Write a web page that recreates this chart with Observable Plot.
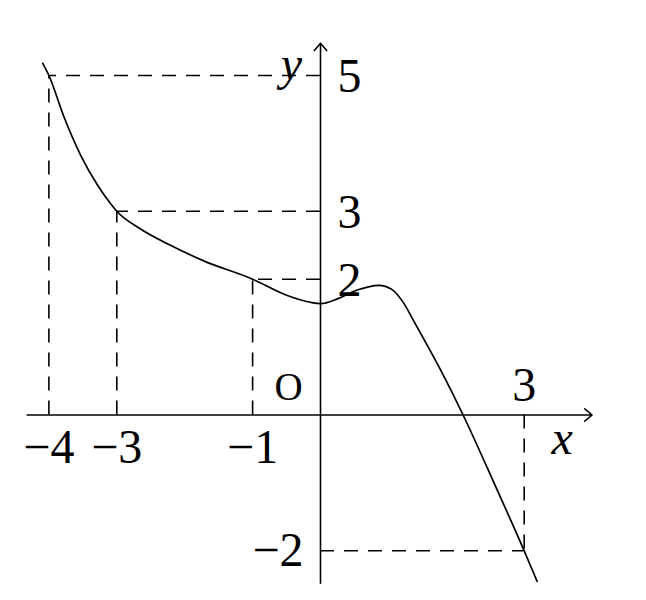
<!DOCTYPE html>
<html><head><meta charset="utf-8">
<script src="https://cdn.jsdelivr.net/npm/d3@7"></script>
<script src="https://cdn.jsdelivr.net/npm/@observablehq/plot@0.6"></script>
<style>html,body{margin:0;padding:0;background:#fff}</style>
</head><body><div id="chart"></div>
<script>
// Curve samples
const curveX = [-4.09, -4, -3.77, -3.53, -3.28, -3.09, -3, -2.65, -2.21, -1.72, -1, -0.49, -0.15, 0, 0.25, 0.54, 0.86, 1.05, 1.23, 1.37, 1.52, 1.77, 2.1, 2.6, 3, 3.19];
const curveY = [5.18, 5, 4.37, 3.82, 3.38, 3.11, 3, 2.74, 2.5, 2.27, 2, 1.76, 1.66, 1.64, 1.71, 1.84, 1.91, 1.85, 1.64, 1.39, 1.12, 0.66, 0, -1.1, -2, -2.45];
// Marked points with dashed guides
const guideX = [-4, -3, -1, 3];
const guideY = [5, 3, 2, -2];
// Tick labels
const xBelowValues = [-4, -3, -1];
const xBelowLabels = ["−4", "−3", "−1"];
const xAboveValues = [3];
const xAboveLabels = ["3"];
const yRightValues = [5, 3, 2];
const yRightLabels = ["5", "3", "2"];
const yLeftValues = [-2];
const yLeftLabels = ["−2"];
const originLabel = "O";
const xAxisLabel = "x";
const yAxisLabel = "y";

const curve = curveX.map((x, i) => ({x, y: curveY[i]}));
const guides = guideX.map((x, i) => ({x, y: guideY[i]}));
const xBelow = xBelowValues.map((v, i) => ({v, t: xBelowLabels[i]}));
const xAbove = xAboveValues.map((v, i) => ({v, t: xAboveLabels[i]}));
const yRight = yRightValues.map((v, i) => ({v, t: yRightLabels[i]}));
const yLeft = yLeftValues.map((v, i) => ({v, t: yLeftLabels[i]}));

const U = 67.9, X0 = 320, Y0 = 414.5, W = 646, H = 600;
const xDomain = [-X0 / U, (W - X0) / U];
const yDomain = [(Y0 - H) / U, Y0 / U];
const xAxisExt = [-4.32, 4.0];
const yAxisExt = [-2.477, 5.476];

const font = "Liberation Serif";
const fs = 48;
const dash = "14,10";
const sw = 1.6;

const chart = Plot.plot({
  width: W, height: H,
  margin: 0,
  x: {domain: xDomain, axis: null},
  y: {domain: yDomain, axis: null},
  style: {background: "white", overflow: "visible"},
  marks: [
    Plot.ruleX(guides, {x: "x", y1: 0, y2: "y", stroke: "black", strokeWidth: sw, strokeDasharray: dash}),
    Plot.ruleY(guides, {y: "y", x1: 0, x2: "x", stroke: "black", strokeWidth: sw, strokeDasharray: dash}),
    Plot.arrow([0], {x1: xAxisExt[0], y1: 0, x2: xAxisExt[1], y2: 0, stroke: "black", strokeWidth: sw, headLength: 9, headAngle: 80}),
    Plot.arrow([0], {x1: 0, y1: yAxisExt[0], x2: 0, y2: yAxisExt[1], stroke: "black", strokeWidth: sw, headLength: 9, headAngle: 80}),
    Plot.line(curve, {x: "x", y: "y", curve: "monotone-x", stroke: "black", strokeWidth: 1.7}),
    Plot.text(xBelow, {x: "v", y: 0, text: "t", fontFamily: font, fontSize: fs, textAnchor: "middle", lineAnchor: "middle", dy: 33, fill: "black"}),
    Plot.text(xAbove, {x: "v", y: 0, text: "t", fontFamily: font, fontSize: fs, textAnchor: "middle", lineAnchor: "middle", dy: -29, fill: "black"}),
    Plot.text(yRight, {x: 0, y: "v", text: "t", fontFamily: font, fontSize: fs, textAnchor: "start", lineAnchor: "middle", dx: 17, dy: 1, fill: "black"}),
    Plot.text(yLeft, {x: 0, y: "v", text: "t", fontFamily: font, fontSize: fs, textAnchor: "end", lineAnchor: "middle", dx: -17, dy: 0, fill: "black"}),
    Plot.text([originLabel], {x: 0, y: 0, text: d => d, fontFamily: font, fontSize: 39, textAnchor: "middle", lineAnchor: "middle", dx: -32, dy: -27, fill: "black"}),
    Plot.text([xAxisLabel], {x: xAxisExt[1], y: 0, text: d => d, fontFamily: font, fontStyle: "italic", fontSize: fs, textAnchor: "middle", lineAnchor: "middle", dx: -30, dy: 24, fill: "black"}),
    Plot.text([yAxisLabel], {x: 0, y: yAxisExt[1], text: d => d, fontFamily: font, fontStyle: "italic", fontSize: fs, textAnchor: "middle", lineAnchor: "middle", dx: -29, dy: 21, fill: "black"})
  ]
});
document.getElementById("chart").appendChild(chart);
</script>
</body></html>
